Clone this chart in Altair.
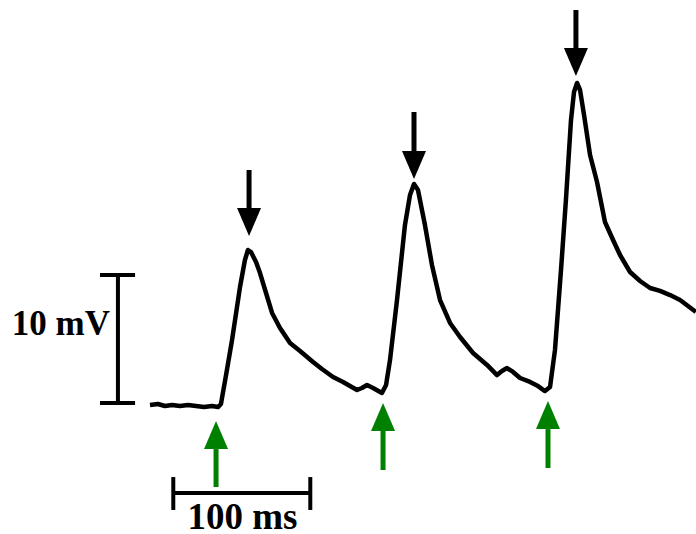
import altair as alt
import pandas as pd

# Membrane potential trace (time in ms, voltage in mV relative to rest)
time_ms = [0.0, 5.8, 10.9, 16.1, 21.9, 27.7, 33.6, 39.4, 45.3, 49.6, 51.8, 55.5, 59.9, 65.7,
           69.3, 71.5, 73.7, 77.4, 80.3, 84.7, 89.1, 94.9, 102.2, 109.5, 119.0, 125.5, 133.6,
           140.9, 146.0, 151.1, 154.7, 158.4, 162.8, 169.3, 172.3, 175.2, 180.3, 186.1, 189.8,
           192.7, 195.6, 200.7, 205.8, 211.7, 219.0, 226.3, 235.8, 246.0, 253.3, 256.9, 260.6,
           265.0, 270.1, 277.4, 283.2, 288.3, 292.0, 295.6, 300.0, 303.6, 307.3, 309.5, 311.7,
           313.9, 316.8, 321.2, 326.3, 332.1, 338.0, 343.1, 350.4, 357.7, 365.0, 372.3, 379.6,
           386.9, 392.7, 398.5]
voltage_mv = [0.00, 0.08, -0.08, 0.00, -0.08, 0.00, -0.08, -0.16, -0.08, -0.16, 0.08, 2.34, 5.08, 9.22,
              11.33, 12.11, 11.95, 11.17, 10.31, 8.75, 7.19, 6.02, 4.84, 4.22, 3.36, 2.81, 2.19,
              1.80, 1.48, 1.17, 1.33, 1.56, 1.33, 0.94, 1.56, 3.52, 8.20, 14.06, 16.41,
              17.27, 16.80, 14.06, 10.94, 8.20, 6.41, 5.31, 4.06, 3.13, 2.34, 2.66, 2.89,
              2.58, 2.11, 1.80, 1.48, 1.09, 1.41, 4.30, 10.55, 16.02, 22.27, 24.45, 25.16,
              24.61, 22.66, 19.53, 17.42, 14.30, 12.89, 11.72, 10.39, 9.69, 9.14, 8.91, 8.59,
              8.20, 7.73, 7.27]

# Stimulus arrows (green, pointing up)
stim_times = [48.2, 170.1, 290.5]
stim_head_base = [-3.44, -2.03, -1.88]
stim_tail = [-6.41, -5.08, -4.92]

# Peak arrows (black, pointing down)
peak_times = [72.3, 192.7, 310.9]
peak_head_base = [15.39, 19.84, 27.89]
peak_tail = [18.36, 22.89, 30.86]

# Scale bars
bar_time = [17.0, 117.0]      # 100 ms
bar_time_v = -6.88
bar_volt = [0.16, 10.16]      # 10 mV
bar_volt_t = -23.4
labels = ["10 mV", "100 ms"]

xs = alt.Scale(domain=[-109.49, 398.54], nice=False, zero=False)
ys = alt.Scale(domain=[-10.078, 31.641], nice=False, zero=False)

trace_df = pd.DataFrame({"t": time_ms, "v": voltage_mv})
stim_df = pd.DataFrame({"t": stim_times, "base": stim_head_base, "tail": stim_tail})
peak_df = pd.DataFrame({"t": peak_times, "base": peak_head_base, "tail": peak_tail})


def x_(f):
    return alt.X(f, scale=xs, axis=None)


def y_(f):
    return alt.Y(f, scale=ys, axis=None)


trace = alt.Chart(trace_df).mark_line(color="black", strokeWidth=4.5, strokeJoin="round").encode(
    x=x_("t:Q"), y=y_("v:Q"), order="t:Q",
)

stim_shaft = alt.Chart(stim_df).mark_rule(color="#008000", strokeWidth=5).encode(
    x=x_("t:Q"), y=y_("tail:Q"), y2="base:Q")
stim_head = alt.Chart(stim_df).mark_point(
    shape="M0,-2L0.857,0L-0.857,0Z", size=784, filled=True, color="#008000", opacity=1, strokeWidth=0
).encode(x=x_("t:Q"), y=y_("base:Q"))

peak_shaft = alt.Chart(peak_df).mark_rule(color="black", strokeWidth=5).encode(
    x=x_("t:Q"), y=y_("tail:Q"), y2="base:Q")
peak_head = alt.Chart(peak_df).mark_point(
    shape="M0,2L0.857,0L-0.857,0Z", size=784, filled=True, color="black", opacity=1, strokeWidth=0
).encode(x=x_("t:Q"), y=y_("base:Q"))

# horizontal time bar
hbar_df = pd.DataFrame({"t0": [bar_time[0]], "t1": [bar_time[1]], "v": [bar_time_v]})
hbar = alt.Chart(hbar_df).mark_rule(color="black", strokeWidth=4).encode(
    x=x_("t0:Q"), x2="t1:Q", y=y_("v:Q"))
hcaps_df = pd.DataFrame({"t": bar_time, "v0": [-5.63, -5.63], "v1": [-8.20, -8.20]})
hcaps = alt.Chart(hcaps_df).mark_rule(color="black", strokeWidth=4).encode(
    x=x_("t:Q"), y=y_("v0:Q"), y2="v1:Q")

# vertical voltage bar
vbar_df = pd.DataFrame({"t": [bar_volt_t], "v0": [bar_volt[0]], "v1": [bar_volt[1]]})
vbar = alt.Chart(vbar_df).mark_rule(color="black", strokeWidth=4).encode(
    x=x_("t:Q"), y=y_("v0:Q"), y2="v1:Q")
vcaps_df = pd.DataFrame({"t0": [-36.5, -36.5], "t1": [-10.9, -10.9], "v": bar_volt})
vcaps = alt.Chart(vcaps_df).mark_rule(color="black", strokeWidth=4).encode(
    x=x_("t0:Q"), x2="t1:Q", y=y_("v:Q"))

mv_df = pd.DataFrame({"t": [-29.2], "v": [5.47], "label": [labels[0]]})
mv_text = alt.Chart(mv_df).mark_text(
    font="Liberation Serif", fontWeight="bold", fontSize=35, align="right", baseline="alphabetic",
    color="black"
).encode(x=x_("t:Q"), y=y_("v:Q"), text="label:N")

ms_df = pd.DataFrame({"t": [67.5], "v": [-9.70], "label": [labels[1]]})
ms_text = alt.Chart(ms_df).mark_text(
    font="Liberation Serif", fontWeight="bold", fontSize=37, align="center", baseline="alphabetic",
    color="black"
).encode(x=x_("t:Q"), y=y_("v:Q"), text="label:N")

chart = alt.layer(
    trace, stim_shaft, stim_head, peak_shaft, peak_head, hbar, hcaps, vbar, vcaps, mv_text, ms_text
).properties(
    width=696, height=534, autosize=alt.AutoSizeParams(type="none"), padding=0,
    background="white"
).configure_view(stroke=None)

chart.save("out.html", embed_options={"renderer": "svg", "actions": False})
